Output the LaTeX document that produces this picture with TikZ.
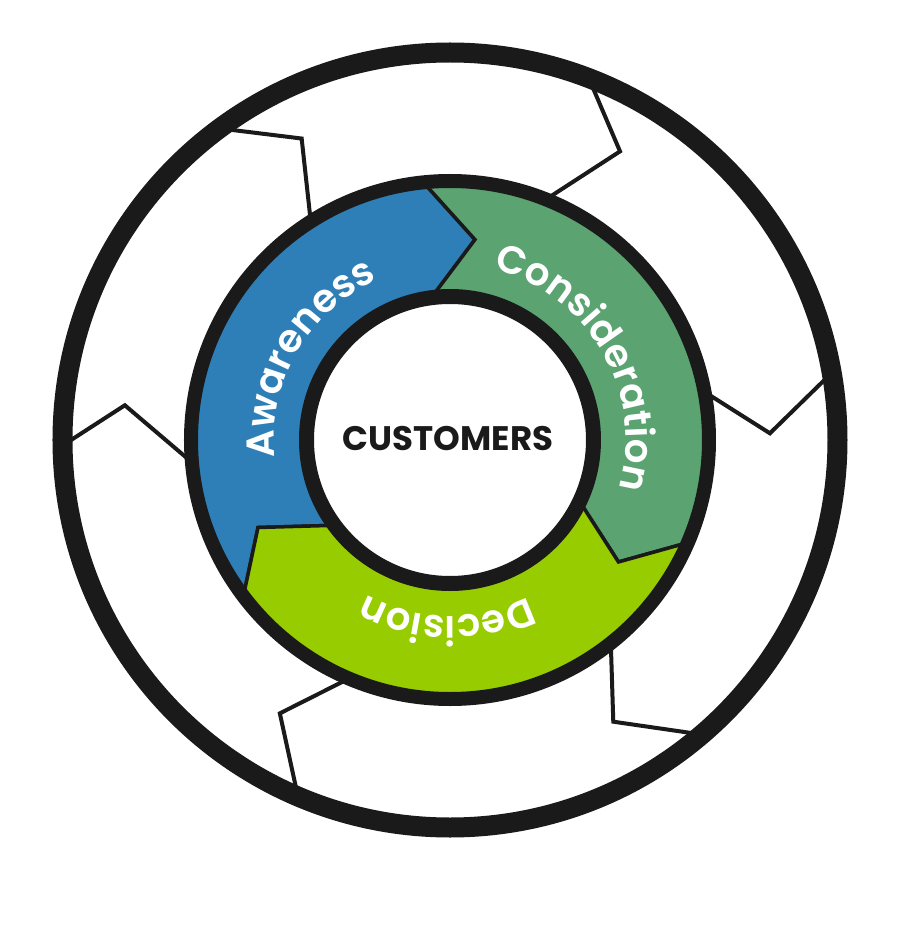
\documentclass[tikz,border=0pt]{standalone}
\usepackage{fontspec}
\usetikzlibrary{decorations.text}
\newfontfamily\popsemi{Poppins SemiBold}
\newfontfamily\popbold{Poppins Bold}
\newcommand\lblfont{\popsemi\fontsize{39}{39}\selectfont}
\definecolor{ink}{HTML}{1A1A1A}
\definecolor{awblue}{HTML}{2E7FB7}
\definecolor{cogreen}{HTML}{5BA371}
\definecolor{delime}{HTML}{96CC00}
\tikzset{
  chev/.style={draw=ink, line width=4pt},
  seg/.style={draw=ink, line width=3.5pt},
  ringline/.style={draw=ink},
  arclabel/.style={decorate, decoration={text along path, text align=center, text color=white, text={#1}}}
}
\begin{document}
\begin{tikzpicture}[x=1pt,y=1pt]
  \useasboundingbox (-450,-500) rectangle (450,440);
  \fill[white] (-450,-500) rectangle (450,440);
  \coordinate (c) at (0,0);
  % outer white ring chevrons
  \draw[chev] (184.3:262) -- (173.9:327) -- (180.3:382);
  \draw[chev] (122.2:262) -- (116.2:336) -- (125.6:382);
  \draw[chev] (67.8:262) -- (59.5:335) -- (68.2:382);
  \draw[chev] (10.1:262) -- (1.2:320) -- (9.4:382);
  \draw[chev] (-52.1:262) -- (-59.9:325.6) -- (-50.2:382);
  \draw[chev] (246.5:262) -- (238.1:322) -- (246.3:382);
  % coloured band segments
  \filldraw[seg, fill=awblue] (216.5:256) -- (204.5:211) -- (215.8:146)
     arc[start angle=215.8, end angle=96.5, radius=146] -- (82.9:202) -- (95.4:256)
     arc[start angle=95.4, end angle=216.5, radius=256] -- cycle;
  \filldraw[seg, fill=cogreen] (95.4:256) -- (82.9:202) -- (96.5:146)
     arc[start angle=96.5, end angle=-26, radius=146] -- (-35.9:208) -- (-23.9:256)
     arc[start angle=-23.9, end angle=95.4, radius=256] -- cycle;
  \filldraw[seg, fill=delime] (-23.9:256) -- (-35.9:208) -- (-26:146)
     arc[start angle=-26, end angle=-144.2, radius=146] -- (-155.5:211) -- (-143.5:256)
     arc[start angle=-143.5, end angle=-23.9, radius=256] -- cycle;
  % rings
  \draw[ringline, line width=14pt] (c) circle[radius=259];
  \filldraw[ringline, fill=white, line width=15pt] (c) circle[radius=143.5];
  \draw[ringline, line width=20pt] (c) circle[radius=387.5];
  % labels
  \path[arclabel={|\lblfont|Awareness}] (210:176) arc[start angle=210, end angle=90, radius=176];
  \path[arclabel={|\lblfont|Consideration}] (100:176) arc[start angle=100, end angle=-40, radius=176];
  \path[arclabel={|\lblfont|Decision}] (-21:176) arc[start angle=-21, end angle=-161, radius=176];
  \node[inner sep=0pt, text=ink, font=\popbold\fontsize{34}{34}\selectfont] (cust) at (-2,1) {CUSTOMERS};
\end{tikzpicture}
\end{document}
